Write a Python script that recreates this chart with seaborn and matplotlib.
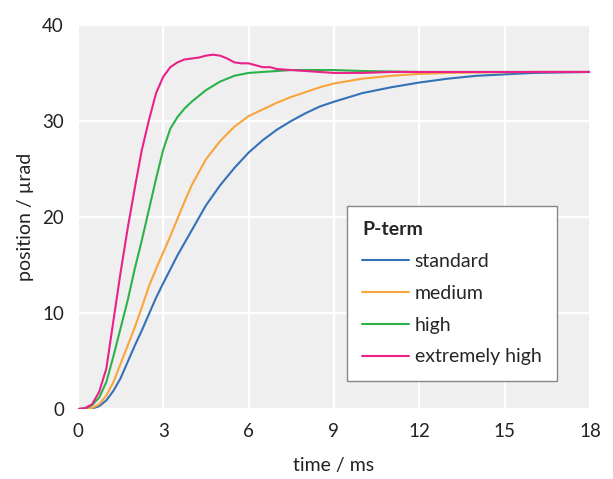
import numpy as np
import pandas as pd
import seaborn as sns
import matplotlib.pyplot as plt

# step responses (time in ms, position in urad)
t_standard = [0, 0.5, 0.75, 1.0, 1.25, 1.5, 1.75, 2.0, 2.25, 2.5, 2.75, 3.0, 3.5, 4.0, 4.5, 5.0,
              5.5, 6.0, 6.5, 7.0, 7.5, 8.0, 8.5, 9.0, 10, 11, 12, 13, 14, 15, 16, 17, 18]
v_standard = [0, 0.05, 0.3, 0.9, 1.9, 3.2, 4.9, 6.6, 8.2, 9.9, 11.6, 13.1, 16.0, 18.6, 21.2, 23.3,
              25.1, 26.7, 28.0, 29.1, 30.0, 30.8, 31.5, 32.0, 32.9, 33.5, 34.0, 34.4, 34.7, 34.85, 35.0, 35.05, 35.1]

t_medium = [0, 0.5, 0.75, 1.0, 1.25, 1.5, 1.75, 2.0, 2.25, 2.5, 2.75, 3.0, 3.25, 3.5, 3.75, 4.0, 4.5,
            5.0, 5.5, 6.0, 6.5, 7.0, 7.5, 8.0, 8.5, 9.0, 10, 11, 12, 13, 14, 16, 18]
v_medium = [0, 0.1, 0.5, 1.4, 2.8, 4.7, 6.6, 8.5, 10.6, 12.8, 14.6, 16.3, 18.0, 19.8, 21.6, 23.3, 26.0,
            27.9, 29.4, 30.5, 31.2, 31.9, 32.5, 33.0, 33.5, 33.9, 34.4, 34.7, 34.9, 35.0, 35.05, 35.1, 35.1]

t_high = [0, 0.25, 0.5, 0.75, 1.0, 1.25, 1.5, 1.75, 2.0, 2.25, 2.5, 2.75, 3.0, 3.25, 3.5, 3.75, 4.0,
          4.5, 5.0, 5.5, 6.0, 6.5, 7.0, 7.5, 8.0, 9, 10, 12, 14, 16, 18]
v_high = [0, 0.05, 0.4, 1.2, 2.8, 5.5, 8.4, 11.3, 14.6, 17.6, 20.8, 24.0, 27.0, 29.2, 30.4, 31.3, 32.0,
          33.2, 34.1, 34.7, 35.0, 35.1, 35.2, 35.3, 35.3, 35.3, 35.2, 35.1, 35.1, 35.1, 35.1]

t_extreme = [0, 0.25, 0.5, 0.75, 1.0, 1.25, 1.5, 1.75, 2.0, 2.25, 2.5, 2.75, 3.0, 3.25, 3.5, 3.75,
             4.0, 4.25, 4.5, 4.75, 5.0, 5.25, 5.5, 5.75, 6.0, 6.25, 6.5, 6.75, 7.0, 7.5, 8, 8.5, 9,
             10, 11, 12, 14, 16, 18]
v_extreme = [0, 0.1, 0.5, 1.8, 4.2, 9.2, 14.2, 18.8, 23.0, 27.0, 30.1, 32.9, 34.6, 35.6, 36.1, 36.4,
             36.5, 36.6, 36.8, 36.9, 36.8, 36.5, 36.1, 36.0, 36.0, 35.8, 35.6, 35.6, 35.4, 35.3, 35.2, 35.1, 35.0,
             35.0, 35.1, 35.1, 35.1, 35.1, 35.1]

labels = ['standard', 'medium', 'high', 'extremely high']
colors = ['#3471b8', '#f9a53b', '#2cb24b', '#ea2189']
x_ticks = [0, 3, 6, 9, 12, 15, 18]
y_ticks = [0, 10, 20, 30, 40]

series = [(t_standard, v_standard), (t_medium, v_medium), (t_high, v_high), (t_extreme, v_extreme)]
frames = []
for lab, (t, v) in zip(labels, series):
    frames.append(pd.DataFrame({'time': t, 'position': v, 'P-term': lab}))
df = pd.concat(frames, ignore_index=True)

sns.set_theme(style='darkgrid', rc={'axes.facecolor': '#efefef', 'grid.color': 'white',
                                     'grid.linewidth': 1.6})
plt.rcParams['font.family'] = ['Lato', 'DejaVu Sans']

fig, ax = plt.subplots(figsize=(6.13, 4.79), dpi=100)
fig.subplots_adjust(left=0.127, right=0.9625, top=0.948, bottom=0.146)

sns.lineplot(data=df, x='time', y='position', hue='P-term', hue_order=labels,
             palette=colors, linewidth=1.5, ax=ax)

ax.set_xlim(0, 18)
ax.set_ylim(0, 40)
ax.set_xticks(x_ticks)
ax.set_yticks(y_ticks)
ax.tick_params(axis='both', labelsize=13.5, colors='#222222', pad=4)
ax.set_xlabel('time / ms', fontsize=14, color='#222222', labelpad=12)
ax.set_ylabel('position / µrad', fontsize=14, color='#222222', labelpad=6)
for s in ax.spines.values():
    s.set_visible(False)

leg = ax.legend(title='P-term', loc='lower left', bbox_to_anchor=(0.525, 0.073),
                borderaxespad=0, fontsize=14, title_fontsize=14, frameon=True, fancybox=False,
                edgecolor='#888888', facecolor='white', framealpha=1,
                handlelength=2.4, labelspacing=0.76, borderpad=0.8, handletextpad=0.3)
leg.get_title().set_fontweight('bold')
leg._legend_box.align = 'left'
leg.get_frame().set_linewidth(1.0)

plt.savefig('out.png', dpi=100)
